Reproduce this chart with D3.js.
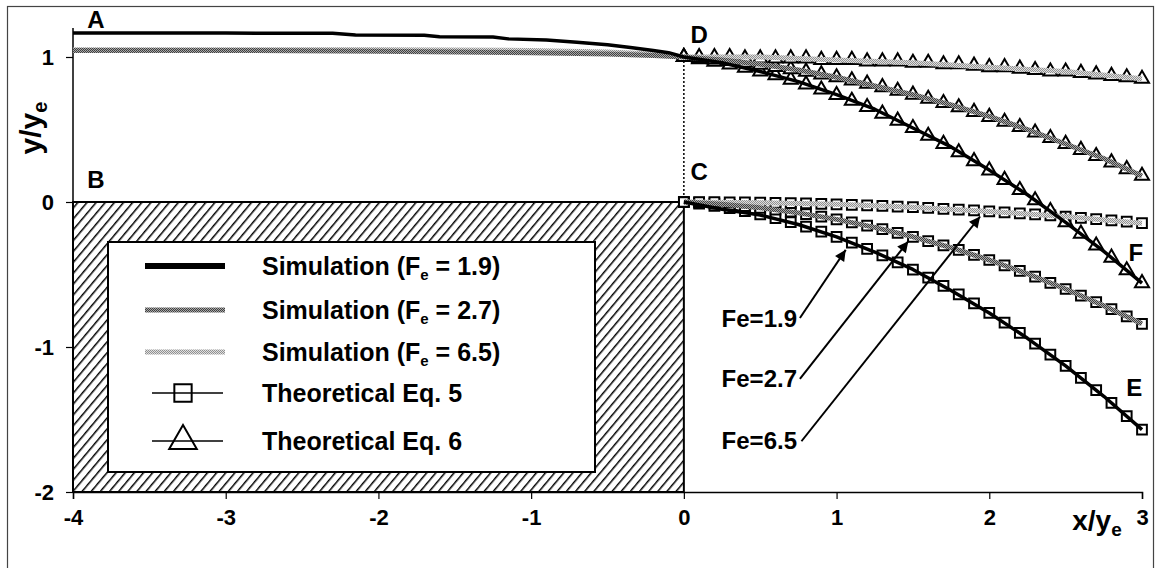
<!DOCTYPE html>
<html>
<head>
<meta charset="utf-8">
<script src="https://cdn.jsdelivr.net/npm/d3@7"></script>
<style>
  body { margin: 0; background: #fff; }
  text { font-family: "Liberation Sans", Arial, sans-serif; font-weight: bold; }
</style>
</head>
<body>
<svg id="chart" width="1157" height="568"></svg>
<script>
// x positions of the theoretical markers (x/ye)
var xTheory = [0, 0.1, 0.2, 0.3, 0.4, 0.5, 0.6, 0.7, 0.8, 0.9, 1.0, 1.1, 1.2, 1.3, 1.4, 1.5,
               1.6, 1.7, 1.8, 1.9, 2.0, 2.1, 2.2, 2.3, 2.4, 2.5, 2.6, 2.7, 2.8, 2.9, 3.0];

// Theoretical Eq. 6 - upper surface (triangles)
var eq6_19 = [1.000, 0.985, 0.968, 0.949, 0.926, 0.901, 0.874, 0.844, 0.811, 0.776, 0.738,
              0.698, 0.655, 0.609, 0.561, 0.510, 0.457, 0.401, 0.343, 0.282, 0.218, 0.152,
              0.083, 0.012, -0.062, -0.139, -0.218, -0.300, -0.384, -0.471, -0.560];
var eq6_27 = [1.000, 0.992, 0.983, 0.972, 0.960, 0.947, 0.932, 0.916, 0.899, 0.880, 0.860,
              0.839, 0.816, 0.792, 0.767, 0.740, 0.712, 0.683, 0.653, 0.621, 0.587, 0.553,
              0.517, 0.479, 0.441, 0.401, 0.359, 0.317, 0.273, 0.227, 0.181];
var eq6_65 = [1.00, 1.00, 1.00, 1.00, 0.99, 0.99, 0.99, 0.99, 0.99, 0.98, 0.98, 0.98, 0.97,
              0.97, 0.97, 0.96, 0.96, 0.95, 0.95, 0.94, 0.93, 0.93, 0.92, 0.91, 0.90, 0.90,
              0.89, 0.88, 0.87, 0.86, 0.85];

// Theoretical Eq. 5 - lower surface (squares)
var eq5_19 = [0.000, -0.011, -0.026, -0.043, -0.063, -0.085, -0.111, -0.139, -0.170, -0.204,
              -0.241, -0.281, -0.323, -0.368, -0.416, -0.467, -0.521, -0.578, -0.637, -0.699,
              -0.764, -0.832, -0.902, -0.976, -1.052, -1.131, -1.213, -1.298, -1.385, -1.476, -1.569];
var eq5_27 = [0.000, -0.005, -0.011, -0.019, -0.029, -0.040, -0.053, -0.067, -0.083, -0.101,
              -0.120, -0.141, -0.163, -0.187, -0.213, -0.240, -0.269, -0.299, -0.331, -0.365,
              -0.400, -0.437, -0.475, -0.515, -0.557, -0.600, -0.645, -0.691, -0.739, -0.789, -0.840];
var eq5_65 = [0.000, 0.000, -0.001, -0.002, -0.003, -0.004, -0.006, -0.008, -0.010, -0.013,
              -0.016, -0.020, -0.023, -0.027, -0.032, -0.036, -0.041, -0.047, -0.052, -0.058,
              -0.065, -0.071, -0.078, -0.086, -0.093, -0.101, -0.110, -0.118, -0.127, -0.136, -0.146];

// Simulation, upper surface incl. upstream part [x, y]
var sim19Upper = [[-4, 1.165], [-3, 1.165], [-2.3, 1.163], [-2.15, 1.152], [-1.7, 1.150],
                  [-1.6, 1.140], [-1.25, 1.138], [-1.15, 1.125], [-0.9, 1.118], [-0.7, 1.102],
                  [-0.5, 1.085], [-0.35, 1.065], [-0.2, 1.045], [-0.1, 1.03], [0, 1.0],
                  [0.25, 0.96], [0.5, 0.90], [0.75, 0.83], [1, 0.74], [1.25, 0.64], [1.5, 0.51],
                  [1.75, 0.38], [2, 0.22], [2.25, 0.05], [2.5, -0.14], [2.75, -0.34], [3, -0.56]];
var sim27Upper = [[-4, 1.045], [-3, 1.045], [-2, 1.04], [-1.5, 1.035], [-1, 1.03], [-0.5, 1.02],
                  [-0.2, 1.01], [0, 1.0], [0.25, 0.98], [0.5, 0.95], [0.75, 0.91], [1, 0.86],
                  [1.25, 0.80], [1.5, 0.74], [1.75, 0.67], [2, 0.59], [2.25, 0.50], [2.5, 0.40],
                  [2.75, 0.30], [3, 0.18]];
var sim65Upper = [[-4, 1.05], [-3, 1.05], [-2, 1.05], [-1, 1.045], [-0.5, 1.035], [-0.2, 1.02],
                  [0, 1.0], [0.5, 1.0], [1, 0.98], [1.5, 0.96], [2, 0.93], [2.5, 0.90], [3, 0.85]];
// Simulation, lower surface
var sim19Lower = [[0, 0], [0.25, -0.05], [0.5, -0.09], [0.75, -0.155], [1, -0.24], [1.25, -0.345],
                  [1.5, -0.465], [1.75, -0.61], [2, -0.765], [2.25, -0.94], [2.5, -1.13],
                  [2.75, -1.34], [3, -1.57]];
var sim27Lower = [[0, 0], [0.25, -0.015], [0.5, -0.04], [0.75, -0.075], [1, -0.12], [1.25, -0.175],
                  [1.5, -0.24], [1.75, -0.315], [2, -0.40], [2.25, -0.495], [2.5, -0.60],
                  [2.75, -0.715], [3, -0.84]];
var sim65Lower = [[0, 0], [0.5, -0.005], [1, -0.016], [1.5, -0.036], [2, -0.065], [2.5, -0.10],
                  [3, -0.146]];

var xTicks = [-4, -3, -2, -1, 0, 1, 2, 3];
var yTicks = [-2, -1, 0, 1];
var legendLabels = [["Simulation (F", "e", "= 1.9)"], ["Simulation (F", "e", "= 2.7)"],
                    ["Simulation (F", "e", "= 6.5)"], ["Theoretical Eq. 5"], ["Theoretical Eq. 6"]];
var feLabels = ["Fe=1.9", "Fe=2.7", "Fe=6.5"];

var svg = d3.select("#chart");

var x = d3.scaleLinear().domain([-4, 3]).range([73, 1142]);
var y = d3.scaleLinear().domain([-2, 1.2]).range([492, 28]);

// patterns: hatch for the weir body, dithered greys for the simulation lines
var defs = svg.append("defs");
var hatch = defs.append("pattern").attr("id", "hatch")
    .attr("patternUnits", "userSpaceOnUse").attr("width", 7).attr("height", 7)
    .attr("patternTransform", "rotate(40)");
hatch.append("rect").attr("width", 7).attr("height", 7).attr("fill", "#fff");
hatch.append("line").attr("x1", 0).attr("y1", 0).attr("x2", 0).attr("y2", 7)
    .attr("stroke", "#000").attr("stroke-width", 3);

function dither(id, bg, fg) {
    var p = defs.append("pattern").attr("id", id)
        .attr("patternUnits", "userSpaceOnUse").attr("width", 2).attr("height", 2);
    p.append("rect").attr("width", 2).attr("height", 2).attr("fill", bg);
    p.append("rect").attr("width", 1).attr("height", 1).attr("fill", fg);
    p.append("rect").attr("x", 1).attr("y", 1).attr("width", 1).attr("height", 1).attr("fill", fg);
}
dither("grey27", "#a8a8a8", "#404040");
dither("grey65", "#e0e0e0", "#909090");

defs.append("marker").attr("id", "arrow")
    .attr("viewBox", "0 0 10 10").attr("refX", 10).attr("refY", 5)
    .attr("markerWidth", 7).attr("markerHeight", 5.5).attr("markerUnits", "strokeWidth")
    .attr("orient", "auto")
  .append("path").attr("d", "M0,0 L10,5 L0,10 Z").attr("fill", "#000");

// outer frame
svg.append("rect").attr("x", 7.5).attr("y", 6.5).attr("width", 1146).attr("height", 600)
    .attr("fill", "none").attr("stroke", "#444").attr("stroke-width", 1.2);

// weir body
svg.append("rect")
    .attr("x", x(-4)).attr("y", y(0))
    .attr("width", x(0) - x(-4)).attr("height", y(-2) - y(0))
    .attr("fill", "url(#hatch)").attr("stroke", "#000").attr("stroke-width", 2);

// legend box
var lg = svg.append("g");
lg.append("rect").attr("x", 108).attr("y", 242).attr("width", 487).attr("height", 230)
    .attr("fill", "#fff").attr("stroke", "#000").attr("stroke-width", 2);

// axes, plain hyphen for negatives like the original
var fmt = function (d) { return String(d); };
var xAxis = svg.append("g").attr("transform", "translate(0," + y(-2) + ")")
    .call(d3.axisBottom(x).tickValues(xTicks).tickSize(7).tickPadding(10).tickFormat(fmt));
var yAxis = svg.append("g").attr("transform", "translate(" + x(-4) + ",0)")
    .call(d3.axisLeft(y).tickValues(yTicks).tickSize(7).tickPadding(12).tickFormat(fmt));
[xAxis, yAxis].forEach(function (a) {
    a.select(".domain").attr("stroke", "#000").attr("stroke-width", 1.5);
    a.selectAll(".tick line").attr("stroke", "#000").attr("stroke-width", 1.2);
    a.selectAll(".tick text").attr("font-size", 22).attr("fill", "#000")
        .style("font-family", "'Liberation Sans', Arial, sans-serif").style("font-weight", "bold");
});
yAxis.select(".domain").attr("d", "M0," + y(1.2) + "V" + y(-2));

// axis titles
var yt = svg.append("text").attr("transform", "translate(41,128) rotate(-90)")
    .attr("text-anchor", "middle").attr("font-size", 30);
yt.append("tspan").text("y/y");
yt.append("tspan").attr("font-size", 20).attr("dy", 6).text("e");
var xt = svg.append("text").attr("x", 1097).attr("y", 530).attr("text-anchor", "middle")
    .attr("font-size", 28);
xt.append("tspan").text("x/y");
xt.append("tspan").attr("font-size", 19).attr("dy", 6).text("e");

// dotted line between D and C
svg.append("line").attr("x1", x(0)).attr("x2", x(0)).attr("y1", y(1)).attr("y2", y(0))
    .attr("stroke", "#000").attr("stroke-width", 1.5).attr("stroke-dasharray", "2,2");

// theoretical curves: thin line + markers
var line = d3.line().x(function (d) { return x(d[0]); }).y(function (d) { return y(d[1]); });
var sq = d3.symbol().type(d3.symbolSquare).size(95);
var tri = d3.symbol().type(d3.symbolTriangle).size(85);

function theory(vals, sym) {
    var pts = xTheory.map(function (v, i) { return [v, vals[i]]; });
    svg.append("path").attr("d", line(pts)).attr("fill", "none")
        .attr("stroke", "#000").attr("stroke-width", 1);
    svg.append("g").selectAll("path").data(pts).enter().append("path")
        .attr("transform", function (d) { return "translate(" + x(d[0]) + "," + y(d[1]) + ")"; })
        .attr("d", sym).attr("fill", "#fff").attr("stroke", "#000").attr("stroke-width", 2);
}
theory(eq5_19, sq);
theory(eq5_27, sq);
theory(eq5_65, sq);
theory(eq6_19, tri);
theory(eq6_27, tri);
theory(eq6_65, tri);

// simulation lines on top
function sim(pts, stroke, w) {
    svg.append("path").attr("d", line(pts)).attr("fill", "none")
        .attr("stroke", stroke).attr("stroke-width", w).attr("stroke-linejoin", "round");
}
sim(sim65Upper, "url(#grey65)", 5);
sim(sim65Lower, "url(#grey65)", 5);
sim(sim27Upper, "url(#grey27)", 5);
sim(sim27Lower, "url(#grey27)", 5);
sim(sim19Upper, "#000", 3.5);
sim(sim19Lower, "#000", 3.5);

// legend entries
var rowY = [266, 310, 352, 393, 441];
var sw = [["#000", 6], ["url(#grey27)", 5], ["url(#grey65)", 5]];
legendLabels.forEach(function (lab, i) {
    var ry = rowY[i];
    if (i < 3) {
        lg.append("line").attr("x1", 145).attr("x2", 225).attr("y1", ry).attr("y2", ry)
            .attr("stroke", sw[i][0]).attr("stroke-width", sw[i][1]);
    } else {
        lg.append("line").attr("x1", 152).attr("x2", 223).attr("y1", ry).attr("y2", ry)
            .attr("stroke", "#000").attr("stroke-width", 1.5);
        lg.append("path").attr("transform", "translate(183," + ry + ")")
            .attr("d", i == 3 ? d3.symbol().type(d3.symbolSquare).size(300)
                              : d3.symbol().type(d3.symbolTriangle).size(330))
            .attr("fill", "none").attr("stroke", "#000").attr("stroke-width", 2);
    }
    var t = lg.append("text").attr("x", 262).attr("y", ry + 9).attr("font-size", 25);
    t.append("tspan").text(lab[0]);
    if (lab.length > 1) {
        t.append("tspan").attr("font-size", 15).attr("dy", 5).text(lab[1]);
        t.append("tspan").attr("dy", -5).text(" " + lab[2]);
    }
});

// point labels
var pts = [["A", -3.85, 1.2], ["B", -3.85, 0.1], ["C", 0.1, 0.15], ["D", 0.1, 1.1],
           ["E", 2.95, -1.34], ["F", 2.96, -0.41]];
svg.append("g").selectAll("text").data(pts).enter().append("text")
    .attr("x", function (d) { return x(d[1]); }).attr("y", function (d) { return y(d[2]); })
    .attr("font-size", 24).attr("text-anchor", "middle").text(function (d) { return d[0]; });

// Fe arrows
var arrows = [[318, [0.76, -0.8], [1.06, -0.33]],
              [378, [0.76, -1.22], [1.47, -0.27]],
              [440, [0.77, -1.65], [1.94, -0.1]]];
arrows.forEach(function (a, i) {
    svg.append("text").attr("x", 797).attr("y", a[0] + 9).attr("text-anchor", "end")
        .attr("font-size", 24).text(feLabels[i]);
    svg.append("line")
        .attr("x1", x(a[1][0])).attr("y1", y(a[1][1]))
        .attr("x2", x(a[2][0])).attr("y2", y(a[2][1]))
        .attr("stroke", "#000").attr("stroke-width", 2).attr("marker-end", "url(#arrow)");
});
</script>
</body>
</html>
